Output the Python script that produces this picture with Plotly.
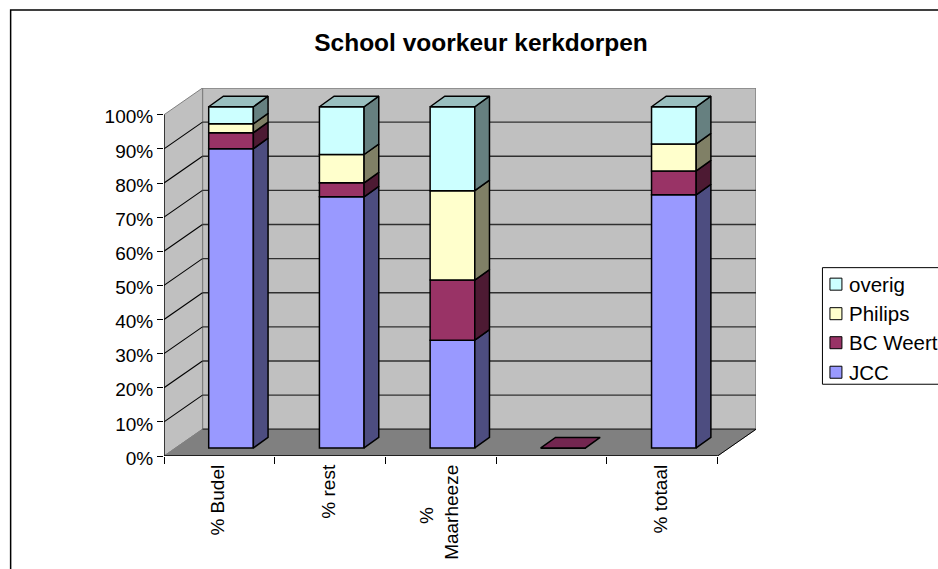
import plotly.graph_objects as go

categories = ["% Budel", "% rest", "%\u00a0\u00a0\u00a0\u00a0\u00a0\u00a0\u00a0\u00a0<br>Maarheeze", " ", "% totaal"]
jcc = [87.7, 73.6, 31.6, 0, 74.2]
bc_weert = [4.7, 4.1, 17.6, 0, 7.0]
philips = [2.6, 8.3, 26.2, 0, 7.9]
overig = [5.0, 14.0, 24.6, 0, 10.9]
y_ticks = list(range(0, 101, 10))

series = [
    ("JCC", jcc, "#9999FF", "#4D4D80", "#737399"),
    ("BC Weert", bc_weert, "#993366", "#4D1A33", "#732650"),
    ("Philips", philips, "#FFFFCC", "#808066", "#BFBF99"),
    ("overig", overig, "#CCFFFF", "#668080", "#99BFBF"),
]

W, H = 938, 569
L, R, T, B = 163.5, 756.0, 88.0, 455.7
XU, YU = 110.8, 3.405           # pixels per category, pixels per percent
WALL_X, WALL_Y = 38.5 / XU, 26.7 / YU
BAR_X, BAR_Y = 14.7 / XU, 10.5 / YU
OFF_Y = 8.0 / YU
CENTER = 0.6056
BAR_W = 44.7 / XU
N = len(categories)


def px(x):
    return (x - L) / (R - L)


def py(y):
    return (B - y) / (B - T)


shapes = []


def poly(points, fill, color, width):
    path = "M" + " L".join(f"{a},{b}" for a, b in points) + " Z"
    shapes.append(dict(type="path", path=path, xref="x", yref="y", fillcolor=fill,
                       line=dict(color=color, width=width), layer="below"))


def seg(x0, y0, x1, y1, color, width, layer="below"):
    shapes.append(dict(type="line", x0=x0, y0=y0, x1=x1, y1=y1, xref="x", yref="y",
                       line=dict(color=color, width=width), layer=layer))


# walls and floor
poly([(WALL_X, WALL_Y), (N + WALL_X, WALL_Y), (N + WALL_X, 100 + WALL_Y), (WALL_X, 100 + WALL_Y)], "#C0C0C0", "#808080", 1.5)
poly([(0, 0), (WALL_X, WALL_Y), (WALL_X, 100 + WALL_Y), (0, 100)], "#C0C0C0", "#808080", 1)
for v in y_ticks[1:-1]:
    seg(0, v, WALL_X, v + WALL_Y, "#000000", 1.1)
    seg(WALL_X, v + WALL_Y, N + WALL_X, v + WALL_Y, "#303030", 1.3)
poly([(0, 0), (N, 0), (N + WALL_X, WALL_Y), (WALL_X, WALL_Y)], "#808080", "#808080", 1)
seg(WALL_X, WALL_Y, N + WALL_X, WALL_Y, "#404040", 1.5)
seg(N, 0, N + WALL_X, WALL_Y, "#000000", 1)
seg(0, 0, N, 0, "#000000", 1.3, "above")
seg(0, 0, 0, 100, "#000000", 1.3, "above")

# outer chart border and legend box
shapes.append(dict(type="rect", xref="paper", yref="paper", x0=px(10), x1=px(960), y0=py(10), y1=py(590),
                   line=dict(color="#000000", width=1.5), fillcolor="rgba(0,0,0,0)", layer="below"))
shapes.append(dict(type="rect", xref="paper", yref="paper", x0=px(822.5), x1=px(960), y0=py(267.5), y1=py(384),
                   line=dict(color="#000000", width=1), fillcolor="#FFFFFF", layer="below"))

fig = go.Figure()
positions = [i + CENTER for i in range(N)]
base = [OFF_Y] * N
faces = []
for name, vals, front, side, top in series:
    fig.add_trace(go.Bar(x=positions, y=vals, base=base, width=BAR_W, name=name,
                         marker=dict(color=front, line=dict(color="#000000", width=1.5)), showlegend=False))
    sx, sy = [], []
    for p, b, v in zip(positions, base, vals):
        if v > 0:
            r = p + BAR_W / 2
            sx += [r, r + BAR_X, r + BAR_X, r, r, None]
            sy += [b, b + BAR_Y, b + v + BAR_Y, b + v, b, None]
    faces.append(go.Scatter(x=sx, y=sy, mode="lines", fill="toself", fillcolor=side, name=name + " side",
                            line=dict(color="#000000", width=1.5), showlegend=False, hoverinfo="skip"))
    base = [b + v for b, v in zip(base, vals)]
for f in faces:
    fig.add_trace(f)

# top faces of the stacks: an empty stack shows the BC Weert cap
tx = {"overig": [], "BC Weert": []}
ty = {"overig": [], "BC Weert": []}
for p, b in zip(positions, base):
    key = "overig" if b > OFF_Y else "BC Weert"
    l, r = p - BAR_W / 2, p + BAR_W / 2
    tx[key] += [l, r, r + BAR_X, l + BAR_X, l, None]
    ty[key] += [b, b, b + BAR_Y, b + BAR_Y, b, None]
tops = {s[0]: s[4] for s in series}
for key in tx:
    fig.add_trace(go.Scatter(x=tx[key], y=ty[key], mode="lines", fill="toself", fillcolor=tops[key],
                             line=dict(color="#000000", width=1.5), name=key + " top",
                             showlegend=False, hoverinfo="skip"))

# legend
annotations = []
for (name, vals, front, side, top), cy in zip(reversed(series), [284, 313.5, 342.5, 372]):
    shapes.append(dict(type="rect", xref="paper", yref="paper", x0=px(830), x1=px(842), y0=py(cy - 6), y1=py(cy + 6),
                       fillcolor=front, line=dict(color="#000000", width=1)))
    annotations.append(dict(text=name, xref="paper", yref="paper", x=px(849), y=py(cy), xanchor="left",
                            yanchor="middle", showarrow=False, xshift=-2,
                            font=dict(family="Liberation Sans", size=20.5, color="#000000")))

fig.update_layout(
    width=W, height=H, autosize=False,
    margin=dict(l=L, r=W - R, t=T, b=H - B, pad=0, autoexpand=False),
    paper_bgcolor="#FFFFFF", plot_bgcolor="#FFFFFF",
    barmode="overlay", showlegend=False,
    title=dict(text="<b>School voorkeur kerkdorpen</b>", x=481 / W, xanchor="center", y=1 - 42 / H, yanchor="middle",
               font=dict(family="Liberation Sans", size=24.5, color="#000000")),
    font=dict(family="Liberation Sans", size=19, color="#000000"),
    xaxis=dict(range=[0, N + WALL_X], tickmode="array", tickvals=[i + 0.49 for i in range(N)], ticktext=categories,
               tickangle=-90, ticks="", showgrid=False, zeroline=False, showline=False, ticklabelstandoff=4,
               minor=dict(tickmode="array", tickvals=list(range(N + 1)), ticks="outside", ticklen=7,
                          tickcolor="#000000", tickwidth=1.3, showgrid=False)),
    yaxis=dict(range=[0, 100 + WALL_Y], tickmode="array", tickvals=y_ticks, ticktext=[f"{v}%" for v in y_ticks],
               ticks="outside", ticklen=6, tickcolor="#000000", tickwidth=1.3, showgrid=False, zeroline=False,
               showline=False, ticklabelshift=2),
    shapes=shapes, annotations=annotations,
)

fig.write_html("out.html", config={"displayModeBar": False},
               post_script="document.body.style.margin='0';document.body.style.overflow='hidden';")
